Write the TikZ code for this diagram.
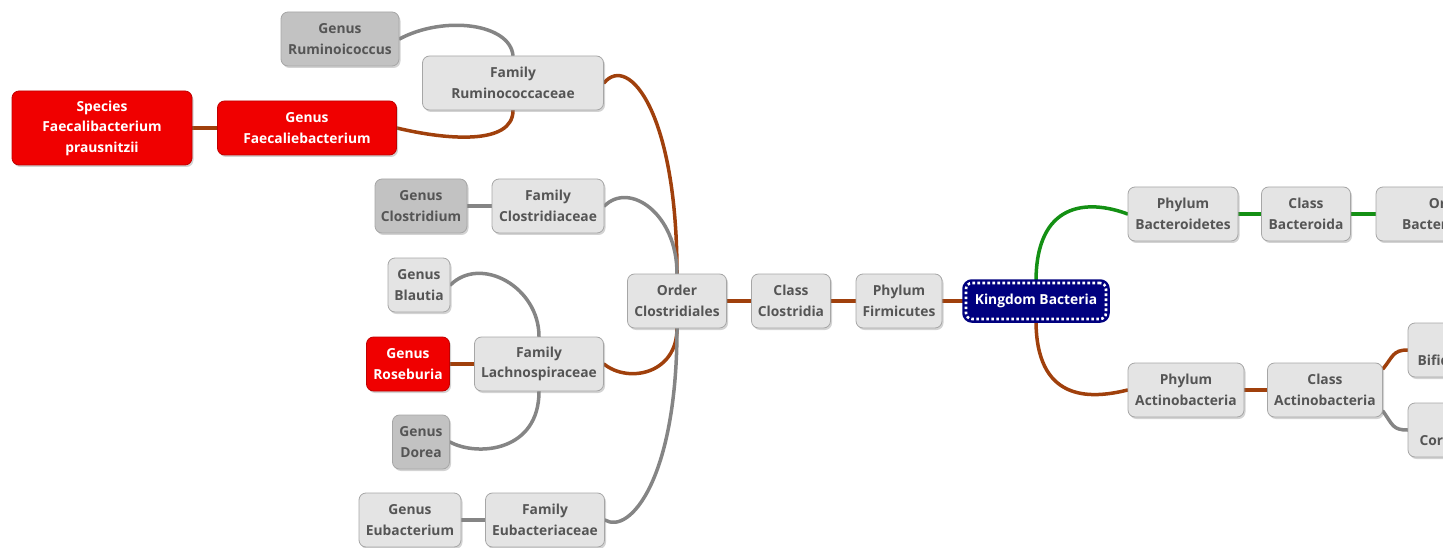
\documentclass[tikz,border=0pt]{standalone}
\usepackage{fontspec}
\setmainfont{Open Sans}
\usetikzlibrary{shadows,calc}
\definecolor{brn}{HTML}{A0400C}
\definecolor{grn}{HTML}{149014}
\definecolor{gln}{HTML}{858585}
\definecolor{lgray}{HTML}{E4E4E4}
\definecolor{dgray}{HTML}{C2C2C2}
\definecolor{txt}{HTML}{555555}
\definecolor{rd}{HTML}{F00000}
\definecolor{nv}{HTML}{00007F}
\pgfdeclarelayer{bg}\pgfsetlayers{bg,main}
\tikzset{
  box/.style={rounded corners=7pt, draw=black!35, line width=0.8pt, fill=lgray, text=txt,
    font=\bfseries\fontsize{13.8}{20.5}\selectfont, align=center, inner sep=0pt,
    minimum height=54pt,
    drop shadow={shadow xshift=1.5pt, shadow yshift=-2pt, opacity=0.35}},
  dbox/.style={box, fill=dgray},
  rbox/.style={box, fill=rd, text=white, draw=rd!80!black},
  kbox/.style={box, fill=nv, text=white, draw=white, line width=2.6pt,
    dash pattern=on 2.6pt off 2.4pt, rounded corners=6pt, minimum height=36pt,
    preaction={draw=nv, solid, line width=7.5pt}},
  ln/.style={line width=3.5pt, line cap=round},
}
\begin{document}
\begin{tikzpicture}[x=1pt,y=-1pt]
\useasboundingbox (0,0) rectangle (1443,548);
\clip (0,0) rectangle (1443,548);
% left part
\node[dbox, minimum width=118pt] (rum) at (340,39) {Genus\\Ruminoicoccus};
\node[box, minimum width=181pt] (famR) at (513,83) {Family\\Ruminococcaceae};
\node[rbox, minimum width=180pt, minimum height=74pt] (spec) at (102,128) {Species\\Faecalibacterium\\prausnitzii};
\node[rbox, minimum width=179pt] (genF) at (307,128) {Genus\\Faecaliebacterium};
\node[dbox, minimum width=92pt] (clo) at (421,206) {Genus\\Clostridium};
\node[box, minimum width=112pt] (famC) at (548,206) {Family\\Clostridiaceae};
\node[box, minimum width=62pt] (bla) at (419,285) {Genus\\Blautia};
\node[rbox, minimum width=83pt] (ros) at (408,364) {Genus\\Roseburia};
\node[box, minimum width=129pt] (famL) at (539,364) {Family\\Lachnospiraceae};
\node[dbox, minimum width=57pt] (dor) at (421,442) {Genus\\Dorea};
\node[box, minimum width=102pt] (eub) at (410,520) {Genus\\Eubacterium};
\node[box, minimum width=119pt] (famE) at (545,520) {Family\\Eubacteriaceae};
% spine
\node[box, minimum width=99pt] (ord) at (677,301) {Order\\Clostridiales};
\node[box, minimum width=79pt] (cls) at (791,301) {Class\\Clostridia};
\node[box, minimum width=86pt] (phy) at (899,301) {Phylum\\Firmicutes};
\node[kbox, minimum width=140pt] (king) at (1036,301) {Kingdom Bacteria};
% right part
\node[box, minimum width=110pt] (phyB) at (1183,214) {Phylum\\Bacteroidetes};
\node[box, minimum width=89pt] (clsB) at (1306,214) {Class\\Bacteroida};
\node[box, minimum width=146pt] (ordB) at (1449,214) {Order\\Bacteroidales};
\node[box, minimum width=116pt] (phyA) at (1186,390) {Phylum\\Actinobacteria};
\node[box, minimum width=115pt] (clsA) at (1325,390) {Class\\Actinobacteria};
\node[box, minimum width=136pt] (bif) at (1476,350) {Order\\Bifidobacteriales};
\node[box, minimum width=136pt] (cor) at (1476,430) {Order\\Coriobacteriales};
\begin{pgfonlayer}{bg}
\draw[ln, gln] (rum.east) .. controls +(45,-24) and +(-3,-32) .. (famR.north);
\draw[ln, brn] (famR.south) .. controls +(0,35) and +(50,12) .. (genF.east);
\draw[ln, brn] (spec) -- (genF);
\draw[ln, brn] (famR.east) .. controls +(25,-30) and +(0,-160) .. (ord.north);
\draw[ln, gln] (famC.east) .. controls +(25,-25) and +(0,-60) .. (ord.north);
\draw[ln, gln] (clo) -- (famC);
\draw[ln, gln] (bla.east) .. controls +(30,-30) and +(0,-50) .. (famL.north);
\draw[ln, brn] (ros) -- (famL);
\draw[ln, gln] (famL.south) .. controls +(0,60) and +(28,15) .. (dor.east);
\draw[ln, brn] (famL.east) .. controls +(25,20) and +(0,45) .. (ord.south);
\draw[ln, gln] (famE.east) .. controls +(25,15) and +(0,150) .. (ord.south);
\draw[ln, gln] (eub) -- (famE);
\draw[ln, brn] (ord) -- (cls) -- (phy) -- (king);
\draw[ln, grn] (king.north) .. controls +(0,-80) and +(-40,-15) .. (phyB.west);
\draw[ln, brn] (king.south) .. controls +(0,80) and +(-40,10) .. (phyA.west);
\draw[ln, grn] (phyB) -- (clsB) -- (ordB);
\draw[ln, brn] (phyA) -- (clsA);
\draw[ln, brn] (clsA.20) .. controls +(10,-12) and +(-15,0) .. (bif.west);
\draw[ln, gln] (clsA.-20) .. controls +(10,14) and +(-15,0) .. (cor.west);
\end{pgfonlayer}
\end{tikzpicture}
\end{document}
